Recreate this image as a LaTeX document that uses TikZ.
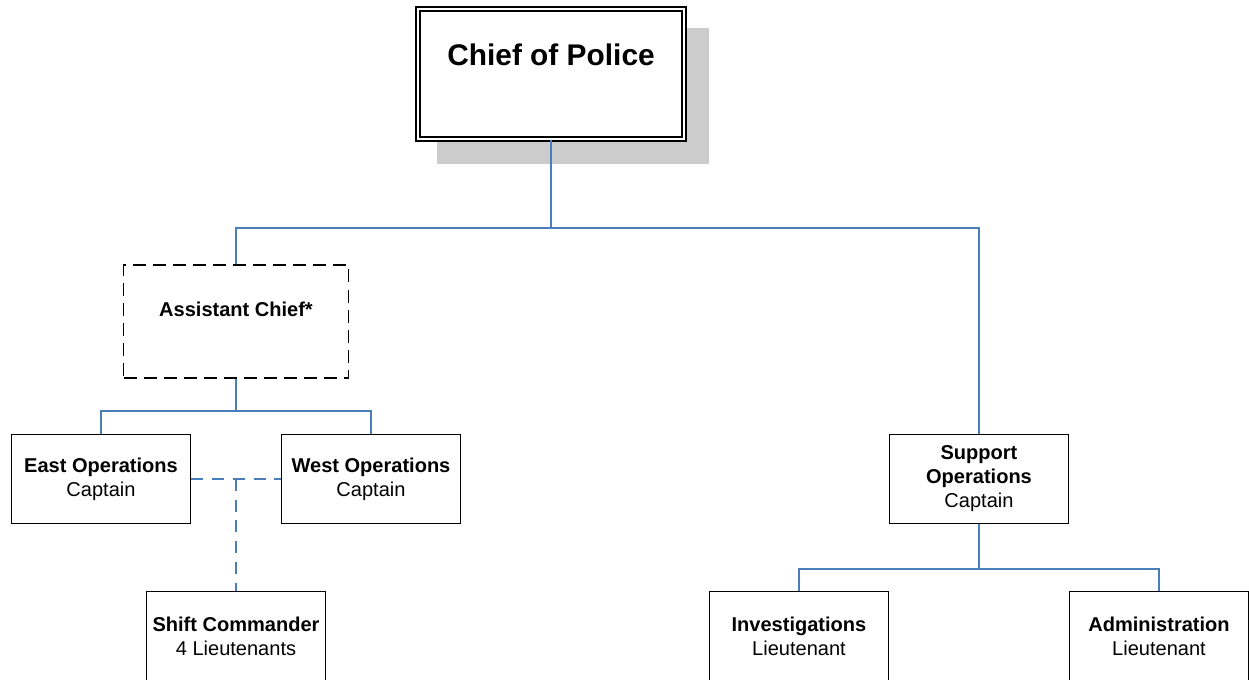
\documentclass[tikz,border=0pt]{standalone}
\usepackage{fontspec}
\setmainfont{Liberation Sans}
\definecolor{linkblue}{RGB}{74,126,187}
\definecolor{shadowgray}{RGB}{204,204,204}

\begin{document}
\begin{tikzpicture}[x=0.02cm,y=-0.02cm]

    \tikzset{
      unit/.style={
        draw,
        line width=1.1pt,
        align=center,
        inner sep=0pt,
        minimum width=3.58cm,
        minimum height=1.78cm,
        font=\fontsize{11.4}{13.7}\selectfont,
      },
      chiefbox/.style={
        unit,
        fill=white,
        double,
        double distance=1.1pt,
        minimum width=5.32cm,
        minimum height=2.6cm,
        font=\fontsize{17}{21.6}\selectfont\bfseries,
      },
      optbox/.style={
        unit,
        dash pattern=on 7.4pt off 4pt,
        minimum width=4.5cm,
        minimum height=2.26cm,
        font=\fontsize{11.4}{14.5}\selectfont\bfseries,
      },
      link/.style={color=linkblue, line width=0.85pt},
      duty/.style={link, dash pattern=on 6.8pt off 5pt},
    }
    \useasboundingbox (0,0) rectangle (1249,680);

	% top
	\fill [shadowgray] (437,28) rectangle (709,164);
	\node[chiefbox] (chief) at (551,74) {Chief of Police\\ \mbox{}};
	\node[optbox] (asst) at (236,321.5) {Assistant Chief*\\ \mbox{}};

	% captains
	\node[unit] (east) at (101,479) {\textbf{East Operations}\\Captain};
	\node[unit] (west) at (371,479) {\textbf{West Operations}\\Captain};
	\node[unit] (supp) at (979,479) {\textbf{Support}\\\textbf{Operations}\\Captain};

	% lieutenants
	\node[unit] (shift) at (236,636) {\textbf{Shift Commander}\\4 Lieutenants};
	\node[unit] (inv) at (799,636) {\textbf{Investigations}\\Lieutenant};
	\node[unit] (adm) at (1159,636) {\textbf{Administration}\\Lieutenant};

	\coordinate (bus1) at (551,228);
	\coordinate (bus2) at (236,411);
	\coordinate (bus3) at (979,569);
	\coordinate (cross) at (236,479);

	\draw[link] (chief.south) -- (bus1) -| (asst.north);
	\draw[link] (bus1) -| (supp.north);
	\draw[link] (asst.south) -- (bus2) -| (east.north);
	\draw[link] (bus2) -| (west.north);
	\draw[link] (supp.south) -- (bus3) -| (inv.north);
	\draw[link] (bus3) -| (adm.north);
	\draw[duty] (east.east) -- (west.west);
	\draw[duty] (cross) -- (shift.north);

\end{tikzpicture}
\end{document}
